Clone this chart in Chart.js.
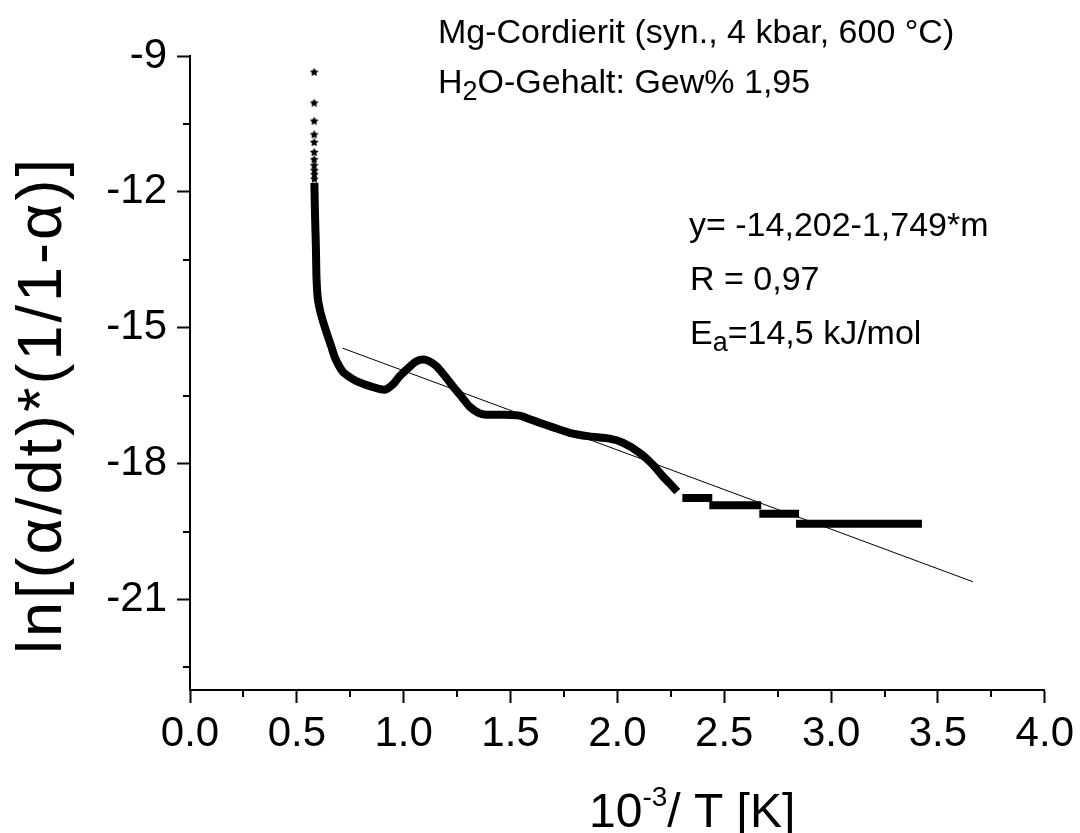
<!DOCTYPE html>
<html>
<head>
<meta charset="utf-8">
<script src="https://cdn.jsdelivr.net/npm/chart.js@4/dist/chart.umd.min.js"></script>
<style>
  html, body { margin: 0; padding: 0; background: #fff; }
</style>
</head>
<body>
<canvas id="myChart" width="1080" height="833"></canvas>
<script>
// sparse star markers at the top of the steep part
const starX = [0.581, 0.581, 0.581, 0.581, 0.581, 0.581, 0.581, 0.581, 0.582, 0.582, 0.582];
const starY = [-9.36, -10.04, -10.44, -10.74, -10.91, -11.13, -11.29, -11.42, -11.53, -11.62, -11.72];

// dense measured curve, null = gap between the flat steps
const curveX = [0.582, 0.585, 0.589, 0.592, 0.598, 0.610, 0.625, 0.640, 0.660, 0.680, 0.716, 0.750, 0.779, 0.841, 0.911,
                0.950, 0.981, 1.028, 1.060, 1.090, 1.120, 1.153, 1.190, 1.230, 1.270, 1.308, 1.350, 1.386, 1.464, 1.542,
                1.636, 1.776, 1.869, 1.963, 2.025, 2.103, 2.165, 2.212, 2.243, 2.280,
                2.280, 2.304, 2.444, 2.444, 2.430, 2.673, 2.673, 2.664, 2.850, 2.850, 2.836, 3.425];
const curveY = [-11.80, -12.50, -13.20, -13.90, -14.35, -14.65, -14.90, -15.12, -15.40, -15.68, -15.98, -16.10, -16.18, -16.29, -16.37,
                -16.25, -16.07, -15.86, -15.74, -15.70, -15.74, -15.85, -16.05, -16.29, -16.52, -16.74, -16.88, -16.92, -16.92, -16.94,
                -17.10, -17.32, -17.40, -17.45, -17.54, -17.76, -18.02, -18.28, -18.43, -18.62,
                null, -18.76, -18.76, null, -18.92, -18.92, null, -19.11, -19.11, null, -19.33, -19.33];

// linear fit  y = -14,202 - 1,749*m
const fitX = [0.713, 3.664];
const fitY = [-15.45, -20.61];

const xTicks = [0, 0.5, 1.0, 1.5, 2.0, 2.5, 3.0, 3.5, 4.0];
const xMinor = [0.25, 0.75, 1.25, 1.75, 2.25, 2.75, 3.25, 3.75];
const yTicks = [-21, -18, -15, -12, -9];
const yMinor = [-22.5, -19.5, -16.5, -13.5, -10.5];

const FONT = "'Liberation Sans', Arial, sans-serif";
Chart.defaults.font.family = FONT;
Chart.defaults.color = '#000';

function toPoints(xs, ys) {
    return xs.map((x, i) => ({ x: x, y: ys[i] }));
}

// small filled 5 point star used as marker
function makeStar(size) {
    const c = document.createElement('canvas');
    c.width = size;
    c.height = size;
    const g = c.getContext('2d');
    g.fillStyle = '#000';
    g.beginPath();
    for (let i = 0; i < 10; i++) {
        const r = i % 2 ? size * 0.26 : size * 0.5;
        const a = -Math.PI / 2 + i * Math.PI / 5;
        const px = size / 2 + r * Math.cos(a);
        const py = size / 2 + r * Math.sin(a);
        if (i === 0) g.moveTo(px, py); else g.lineTo(px, py);
    }
    g.closePath();
    g.fill();
    return c;
}

// text with sub/superscript pieces: [text, size, dy]
function drawRich(ctx, x, y, parts) {
    ctx.textBaseline = 'alphabetic';
    ctx.textAlign = 'left';
    parts.forEach(p => {
        ctx.font = p[1] + 'px ' + FONT;
        ctx.fillText(p[0], x, y + p[2]);
        x += ctx.measureText(p[0]).width;
    });
}

const extras = {
    id: 'extras',
    afterDraw(chart) {
        const ctx = chart.ctx;
        const xs = chart.scales.x;
        const ys = chart.scales.y;
        const area = chart.chartArea;
        ctx.save();
        ctx.strokeStyle = '#000';
        ctx.lineWidth = 2;
        // minor ticks
        xMinor.forEach(v => {
            const px = Math.round(xs.getPixelForValue(v));
            ctx.beginPath();
            ctx.moveTo(px, area.bottom);
            ctx.lineTo(px, area.bottom + 7);
            ctx.stroke();
        });
        yMinor.forEach(v => {
            const py = Math.round(ys.getPixelForValue(v));
            ctx.beginPath();
            ctx.moveTo(area.left, py);
            ctx.lineTo(area.left - 7, py);
            ctx.stroke();
        });

        ctx.fillStyle = '#000';
        drawRich(ctx, 438, 43, [['Mg-Cordierit (syn., 4 kbar, 600 °C)', 34, 0]]);
        drawRich(ctx, 438, 93, [['H', 34, 0], ['2', 27, 7], ['O-Gehalt: Gew% 1,95', 34, 0]]);
        drawRich(ctx, 689, 236, [['y= -14,202-1,749*m', 34, 0]]);
        drawRich(ctx, 690, 290, [['R = 0,97', 34, 0]]);
        drawRich(ctx, 690, 344, [['E', 34, 0], ['a', 27, 7], ['=14,5 kJ/mol', 34, 0]]);

        // axis titles
        drawRich(ctx, 589, 827, [['10', 48, 0], ['-3', 28, -21], ['/ T [K]', 48, 0]]);
        ctx.translate(44, 405);
        ctx.rotate(-Math.PI / 2);
        ctx.font = '63px ' + FONT;
        ctx.letterSpacing = '3px';
        ctx.textAlign = 'center';
        ctx.textBaseline = 'middle';
        ctx.fillText('ln[(α/dt)*(1/1-α)]', 0, 0);
        ctx.restore();
    }
};

new Chart(document.getElementById('myChart'), {
    type: 'scatter',
    data: {
        datasets: [
            {
                label: 'curve',
                data: toPoints(curveX, curveY),
                showLine: true,
                spanGaps: false,
                borderColor: '#000',
                borderWidth: 8,
                borderJoinStyle: 'round',
                tension: 0.2,
                pointRadius: 0
            },
            {
                label: 'stars',
                data: toPoints(starX, starY),
                pointStyle: makeStar(9),
                pointRadius: 4
            },
            {
                label: 'fit',
                data: toPoints(fitX, fitY),
                showLine: true,
                borderColor: '#000',
                borderWidth: 1,
                pointRadius: 0
            }
        ]
    },
    options: {
        responsive: false,
        animation: false,
        events: [],
        layout: { padding: { top: 56, right: 34, bottom: 0, left: 0 } },
        plugins: { legend: { display: false }, tooltip: { enabled: false } },
        scales: {
            x: {
                type: 'linear',
                min: 0,
                max: 4,
                afterBuildTicks: s => { s.ticks = xTicks.map(v => ({ value: v })); },
                afterFit: s => { s.height = 143; },
                ticks: {
                    autoSkip: false,
                    maxRotation: 0,
                    padding: 6,
                    font: { size: 42 },
                    color: '#000',
                    callback: v => v.toFixed(1)
                },
                grid: { drawOnChartArea: false, tickLength: 13, tickColor: '#000', tickWidth: 2 },
                border: { color: '#000', width: 2 }
            },
            y: {
                type: 'linear',
                min: -23,
                max: -9,
                afterBuildTicks: s => { s.ticks = yTicks.map(v => ({ value: v })); },
                afterFit: s => { s.width = 190; },
                ticks: {
                    autoSkip: false,
                    padding: 10,
                    font: { size: 42 },
                    color: '#000',
                    callback: v => String(v)
                },
                grid: { drawOnChartArea: false, tickLength: 13, tickColor: '#000', tickWidth: 2 },
                border: { color: '#000', width: 2 }
            }
        }
    },
    plugins: [extras]
});
</script>
</body>
</html>
